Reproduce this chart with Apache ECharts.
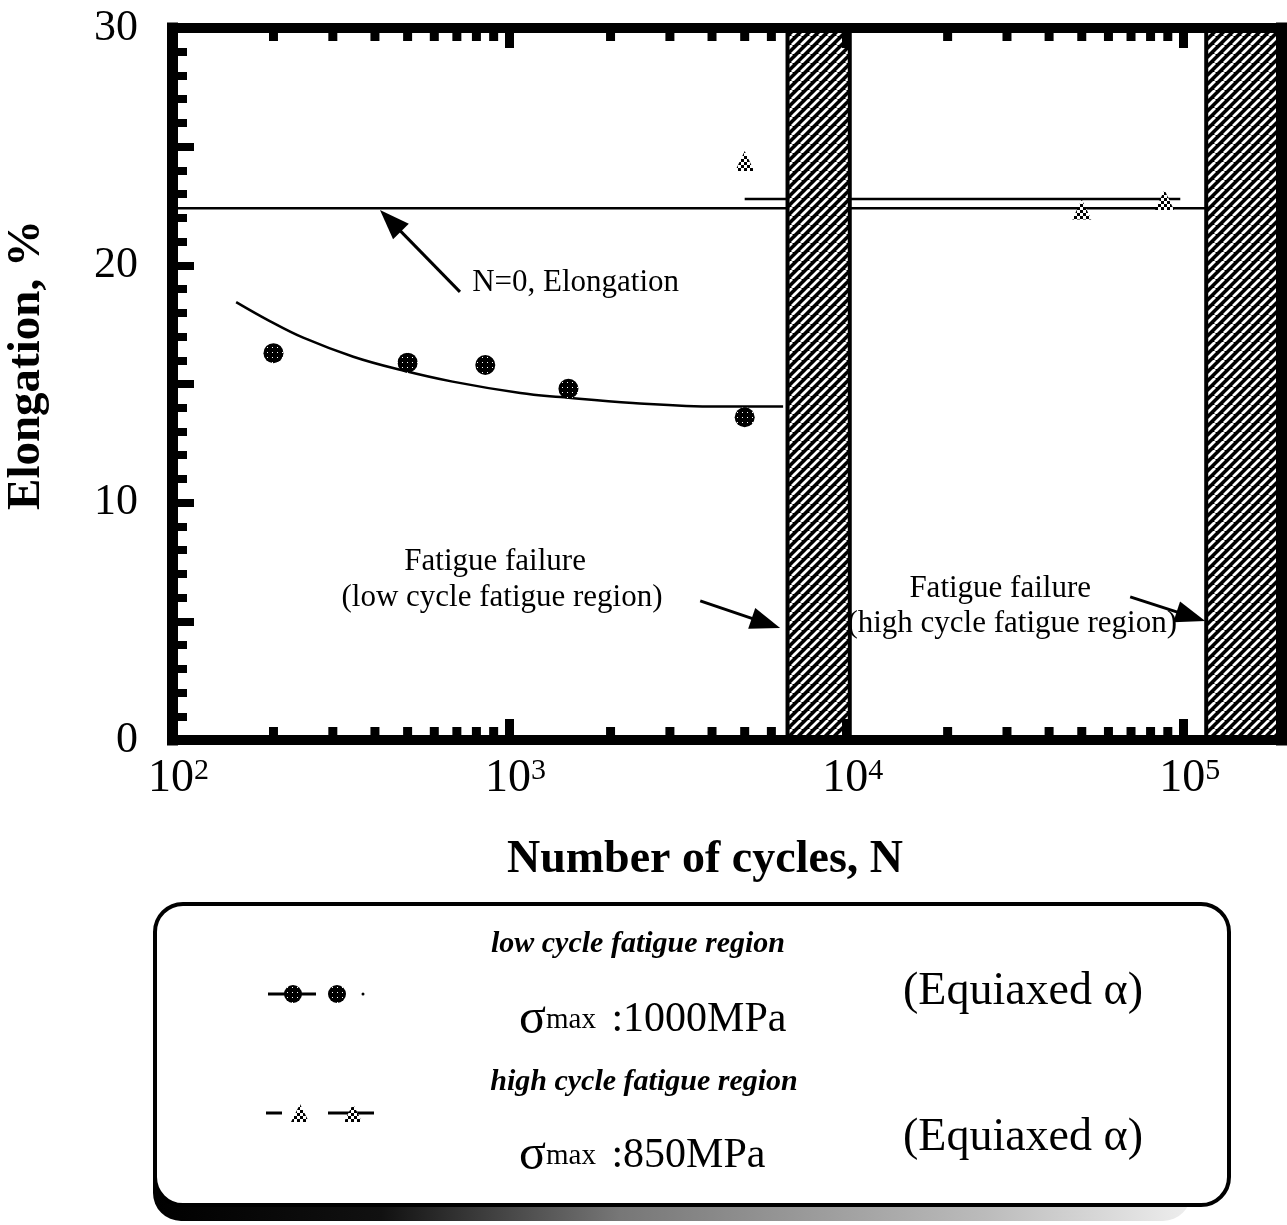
<!DOCTYPE html>
<html>
<head>
<meta charset="utf-8">
<script src="https://cdn.jsdelivr.net/npm/echarts@6/dist/echarts.min.js"></script>
<style>
  html, body { margin: 0; padding: 0; background: #fff; }
  #chart { width: 1287px; height: 1225px; }
</style>
</head>
<body>
<div id="chart"></div>
<script>
// ---- data -------------------------------------------------------------
// low cycle fatigue tests, sigma_max = 1000 MPa
const lowCycleN      = [200, 500, 850, 1500, 5000];
const lowCycleElong  = [16.3, 15.9, 15.8, 14.8, 13.6];
// trend curve through the low cycle results
const lowFitN        = [155, 195, 245, 345, 475, 680, 1080, 1420, 2330, 4140, 6500];
const lowFitElong    = [18.45, 17.65, 16.95, 16.15, 15.6, 15.1, 14.62, 14.45, 14.2, 14.05, 14.05];
// high cycle fatigue tests, sigma_max = 850 MPa
const highCycleN     = [5000, 50000, 88000];
const highCycleElong = [24.4, 22.35, 22.75];
const highFitN       = [5000, 98000];
const highFitElong   = [22.8, 22.8];
// elongation of the untested material (N = 0)
const baseN          = [100, 117000];
const baseElong      = [22.4, 22.4];
// fatigue failure bands, [first cycle, last cycle]
const failureBands   = [[6700, 10250], [117000, 195000]];
// axis ticks
const decadeExponents = [2, 3, 4, 5];
const minorTickN = [200, 300, 400, 500, 600, 700, 800, 900,
                    2000, 3000, 4000, 5000, 6000, 7000, 8000, 9000,
                    20000, 30000, 40000, 50000, 60000, 70000, 80000, 90000];
const yLabelValues = [0, 10, 20, 30];

// ---- drawing ----------------------------------------------------------
const SERIF = '"Liberation Serif", "Times New Roman", serif';
const chart = echarts.init(document.getElementById('chart'), null, { renderer: 'canvas' });

function pattern(size, paint) {
  const c = document.createElement('canvas');
  c.width = c.height = size;
  paint(c.getContext('2d'), size);
  return { image: c, repeat: 'repeat' };
}
// black band with white "/" stripes
const hatchFill = pattern(9, (g, s) => {
  g.fillStyle = '#000'; g.fillRect(0, 0, s, s);
  g.strokeStyle = '#fff'; g.lineWidth = 2.8; g.beginPath();
  for (const o of [-s, 0, s]) { g.moveTo(o, s); g.lineTo(o + s, 0); }
  g.stroke();
});
// dark stipple for the round markers
const stippleFill = pattern(5, (g, s) => {
  g.fillStyle = '#000'; g.fillRect(0, 0, s, s);
  g.fillStyle = '#fff'; g.fillRect(2, 2, 1, 1);
});
// checker for the triangle markers
const checkerFill = pattern(6, (g, s) => {
  g.fillStyle = '#fff'; g.fillRect(0, 0, s, s);
  g.fillStyle = '#000'; g.fillRect(0, 0, 3, 3); g.fillRect(3, 3, 3, 3);
});

const pairs = (xs, ys) => xs.map((x, i) => [x, ys[i]]);

const frameLine = (w) => ({ show: true, onZero: false, lineStyle: { color: '#000', width: w, cap: 'square' } });

const logAxis = (position, extra) => Object.assign({
  type: 'log', logBase: 10, min: 100, max: 195000, position, z: 10,
  axisLine: frameLine(10),
  splitLine: { show: false },
  minorTick: { show: false },
  minorSplitLine: { show: false }
}, extra);

const valueAxis = (position, extra) => Object.assign({
  type: 'value', min: 0, max: 30, interval: 5, position, z: 10,
  axisLine: frameLine(11),
  axisTick: { show: true, inside: true, length: 22, lineStyle: { color: '#000', width: 8 } },
  minorTick: { show: true, splitNumber: 5, length: 15, lineStyle: { color: '#000', width: 8 } },
  splitLine: { show: false },
  minorSplitLine: { show: false }
}, extra);

const isDecade = (v) => {
  const e = Math.round(Math.log10(v));
  return Math.abs(Math.log10(v) - e) < 1e-6 && decadeExponents.includes(e) ? e : null;
};

const option = {
  animation: false,
  backgroundColor: '#fff',
  grid: { left: 172, right: 6, top: 28, bottom: 485, containLabel: false, outerBoundsMode: 'none' },
  xAxis: [
    logAxis('bottom', {
      axisTick: { show: true, inside: true, length: 21, lineStyle: { color: '#000', width: 9 } },
      axisLabel: {
        show: true, margin: 16, color: '#000',
        formatter: (v) => {
          const e = isDecade(v);
          return e === null ? '' : '{p| }{b|10}{s|' + e + '}';
        },
        rich: {
          p: { width: 13, fontSize: 10 },
          b: { fontSize: 46, fontFamily: SERIF, color: '#000' },
          s: { fontSize: 30, fontFamily: SERIF, color: '#000', padding: [0, 0, 15, 0] }
        }
      }
    }),
    logAxis('top', {
      axisTick: { show: true, inside: true, length: 20, lineStyle: { color: '#000', width: 9 } },
      axisLabel: { show: false }
    })
  ],
  yAxis: [
    valueAxis('left', {
      axisLabel: {
        show: true, color: '#000', fontFamily: SERIF, fontSize: 44, margin: 34,
        formatter: (v) => (yLabelValues.includes(v) ? String(v) : '')
      }
    }),
    valueAxis('right', {
      axisLabel: { show: false },
      axisTick: { show: false },
      minorTick: { show: false }
    })
  ],
  series: [
    {
      name: 'failure bands', type: 'line', data: [], silent: true,
      markArea: {
        silent: true, z: 3,
        itemStyle: { color: hatchFill, borderColor: '#000', borderWidth: 4 },
        data: failureBands.map(b => [{ xAxis: b[0] }, { xAxis: b[1] }])
      }
    },
    {
      name: 'minor ticks', type: 'custom', silent: true, z: 2,
      data: minorTickN.map(n => [n, 0]),
      renderItem: (params, api) => {
        const v = api.value(0);
        const b = api.coord([v, 0]);
        const t = api.coord([v, 30]);
        return {
          type: 'group',
          children: [
            { type: 'rect', shape: { x: b[0] - 4.5, y: b[1] - 13, width: 9, height: 13 }, style: { fill: '#000' } },
            { type: 'rect', shape: { x: t[0] - 4.5, y: t[1], width: 9, height: 13 }, style: { fill: '#000' } }
          ]
        };
      }
    },
    {
      name: 'N=0', type: 'line', z: 2, symbol: 'none', silent: true,
      data: pairs(baseN, baseElong),
      lineStyle: { color: '#000', width: 2.5 }
    },
    {
      name: 'low cycle fit', type: 'line', z: 2, symbol: 'none', smooth: 0.4, silent: true,
      data: pairs(lowFitN, lowFitElong),
      lineStyle: { color: '#000', width: 2.5 }
    },
    {
      name: 'high cycle fit', type: 'line', z: 2, symbol: 'none', silent: true,
      data: pairs(highFitN, highFitElong),
      lineStyle: { color: '#000', width: 2.5 }
    },
    {
      name: 'low cycle fatigue region', type: 'custom', z: 4, silent: true,
      data: pairs(lowCycleN, lowCycleElong),
      renderItem: (params, api) => {
        const c = api.coord([api.value(0), api.value(1)]);
        return { type: 'circle', shape: { cx: c[0], cy: c[1], r: 10 }, style: { fill: stippleFill } };
      }
    },
    {
      name: 'high cycle fatigue region', type: 'custom', z: 4, silent: true,
      data: pairs(highCycleN, highCycleElong),
      renderItem: (params, api) => {
        const c = api.coord([api.value(0), api.value(1)]);
        return {
          type: 'polygon',
          shape: { points: [[c[0], c[1] - 10], [c[0] - 9.5, c[1] + 10], [c[0] + 9.5, c[1] + 10]] },
          style: { fill: checkerFill }
        };
      }
    }
  ]
};
chart.setOption(option);

// ---- annotations placed in data space --------------------------------
const toPx = (p) => chart.convertToPixel({ xAxisIndex: 0, yAxisIndex: 0 }, p);

function arrow(from, to) {
  const s = toPx(from), t = toPx(to);
  const dx = t[0] - s[0], dy = t[1] - s[1], len = Math.hypot(dx, dy);
  const ux = dx / len, uy = dy / len, head = 30, half = 11;
  const bx = t[0] - ux * head, by = t[1] - uy * head;
  return [
    { type: 'line', z: 20, shape: { x1: s[0], y1: s[1], x2: bx + ux * 4, y2: by + uy * 4 },
      style: { stroke: '#000', lineWidth: 3 } },
    { type: 'polygon', z: 20,
      shape: { points: [[t[0], t[1]], [bx - uy * half, by + ux * half], [bx + uy * half, by - ux * half]] },
      style: { fill: '#000' } }
  ];
}

function label(text, at, font, align) {
  const p = toPx(at);
  return {
    type: 'text', z: 20, x: p[0], y: p[1],
    style: { text, font, fill: '#000', align: align || 'center', verticalAlign: 'middle',
             textAlign: align || 'center', textVerticalAlign: 'middle' }
  };
}

function plain(text, x, y, font, align, extra) {
  return Object.assign({
    type: 'text', z: 30, x, y,
    style: { text, font, fill: '#000', align: align || 'center', verticalAlign: 'middle',
             textAlign: align || 'center', textVerticalAlign: 'middle' }
  }, extra || {});
}

function sigmaLine(value, x, y) {
  const rich = {
    sig: { fontSize: 50, fontFamily: SERIF, fill: '#000', color: '#000' },
    sub: { fontSize: 29, fontFamily: SERIF, fill: '#000', color: '#000', padding: [0, 5, 0, 0] },
    t:   { fontSize: 42, fontFamily: SERIF, fill: '#000', color: '#000' }
  };
  return {
    type: 'text', z: 30, x, y,
    style: { text: '{sig|σ}{sub|max}{t| :' + value + '}', rich, fill: '#000',
             align: 'left', verticalAlign: 'middle', textAlign: 'left', textVerticalAlign: 'middle' }
  };
}

const NOTE = '31px ' + SERIF;
const graphics = [].concat(
  arrow([715, 18.88], [414, 22.33]),
  arrow([3690, 5.86], [6370, 4.72]),
  arrow([69600, 6.03], [116200, 5.01]),
  [
    label('N=0, Elongation', [777, 19.26], NOTE, 'left'),
    label('Fatigue failure', [909, 7.5], NOTE),
    label('(low cycle fatigue region)', [953, 5.98], NOTE),
    label('Fatigue failure', [28640, 6.36], NOTE),
    label('(high cycle fatigue region)', [31090, 4.89], NOTE),

    // axis titles
    plain('Number of cycles, N', 705, 860, 'bold 46px ' + SERIF),
    plain('Elongation, %', 27, 365, 'bold 47px ' + SERIF, 'center', { rotation: Math.PI / 2 }),

    // legend panel with its drop shadow
    { type: 'rect', z: 25, shape: { x: 153, y: 920, width: 1038, height: 301, r: 28 },
      style: { fill: { type: 'linear', x: 0, y: 0, x2: 1, y2: 0, colorStops: [
        { offset: 0, color: '#000' }, { offset: 0.22, color: '#111' },
        { offset: 0.45, color: '#777' }, { offset: 0.8, color: '#bbb' }, { offset: 1, color: '#eee' }] } } },
    { type: 'rect', z: 26, shape: { x: 155, y: 904, width: 1074, height: 301, r: 28 },
      style: { fill: '#fff', stroke: '#000', lineWidth: 4 } },

    // legend samples
    { type: 'line', z: 30, shape: { x1: 268, y1: 994, x2: 316, y2: 994 }, style: { stroke: '#000', lineWidth: 3 } },
    { type: 'circle', z: 31, shape: { cx: 293, cy: 994, r: 9 }, style: { fill: stippleFill } },
    { type: 'circle', z: 31, shape: { cx: 337, cy: 994, r: 9 }, style: { fill: stippleFill } },
    { type: 'circle', z: 31, shape: { cx: 363, cy: 994, r: 1.5 }, style: { fill: '#000' } },
    { type: 'line', z: 30, shape: { x1: 266, y1: 1113, x2: 282, y2: 1113 }, style: { stroke: '#000', lineWidth: 3 } },
    { type: 'line', z: 30, shape: { x1: 328, y1: 1113, x2: 374, y2: 1113 }, style: { stroke: '#000', lineWidth: 3 } },
    { type: 'polygon', z: 31, shape: { points: [[300, 1104], [291, 1122], [309, 1122]] }, style: { fill: checkerFill } },
    { type: 'polygon', z: 31, shape: { points: [[353, 1104], [344, 1122], [362, 1122]] }, style: { fill: checkerFill } },

    plain('low cycle fatigue region', 638, 944, 'italic bold 30px ' + SERIF),
    plain('high cycle fatigue region', 644, 1082, 'italic bold 30px ' + SERIF),
    sigmaLine('1000MPa', 519, 1020),
    sigmaLine('850MPa', 519, 1156),
    plain('(Equiaxed α)', 903, 992, '46px ' + SERIF, 'left'),
    plain('(Equiaxed α)', 903, 1138, '46px ' + SERIF, 'left')
  ]
);
chart.setOption({ graphic: graphics });
</script>
</body>
</html>
